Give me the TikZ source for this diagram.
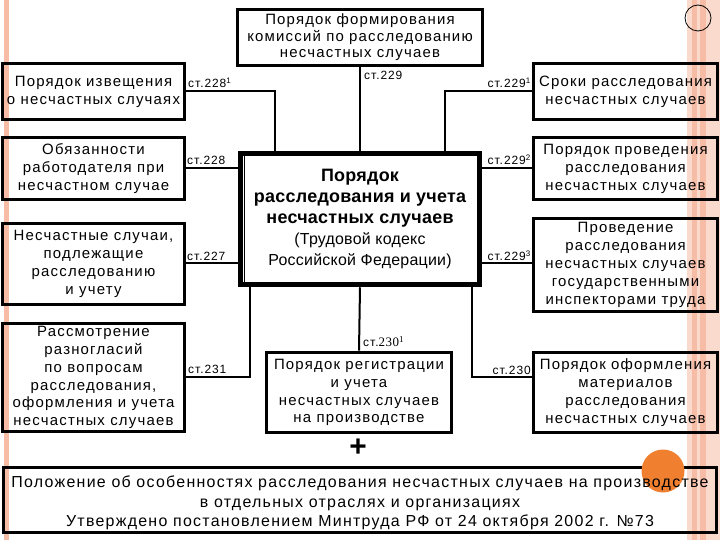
\documentclass[tikz,border=0pt]{standalone}
\usepackage{fontspec}
\setmainfont[LetterSpace=8]{Liberation Sans}
\newfontfamily\serifdig[LetterSpace=4]{Liberation Serif}
\definecolor{stripeA}{RGB}{250,218,204}
\definecolor{stripeB}{RGB}{246,188,165}
\definecolor{orangec}{RGB}{240,128,48}
\newcommand{\titlefont}{\bfseries\addfontfeature{LetterSpace=1.5}\fontsize{18}{21}\selectfont}
\newcommand{\subfont}{\mdseries\fontsize{16}{18}\selectfont}
\tikzset{
  box/.style={draw, line width=3.2bp, align=center, inner sep=0pt, font=\fontsize{15}{18}\selectfont},
  conn/.style={draw, line width=2bp},
  lab/.style={inner sep=0pt, font=\fontsize{12}{13}\selectfont},
}
\begin{document}
\begin{tikzpicture}[x=1bp,y=-1bp]
\useasboundingbox (0,0) rectangle (720,540);
% background stripes
\fill[stripeB] (4,0) rectangle (9,540);
\fill[stripeA] (687,0) rectangle (720,540);
\fill[stripeB] (692,0) rectangle (697,540);
\fill[stripeB] (700,0) rectangle (706,540);
\draw[line width=0.8bp] (698,18) circle (13);

% top box
\node[box, minimum width=246, minimum height=57, font=\fontsize{15}{16.5}\selectfont] (top) at (360,37.5)
  {Порядок формирования\\комиссий по расследованию\\несчастных случаев};

% left boxes
\node[box, minimum width=183, minimum height=57] (b1) at (93.5,91.5)
  {Порядок извещения\\о несчастных случаях};
\node[box, minimum width=183, minimum height=63] (b2) at (93.5,168.5)
  {Обязанности\\работодателя при\\несчастном случае};
\node[box, minimum width=183, minimum height=82] (b3) at (93.5,264)
  {Несчастные случаи,\\подлежащие\\расследованию\\и учету};
\node[box, minimum width=183, minimum height=109] (b4) at (93.5,377.5)
  {Рассмотрение\\разногласий\\по вопросам\\расследования,\\оформления и учета\\несчастных случаев};

% right boxes
\node[box, minimum width=185, minimum height=57] (r1) at (625.5,91.5)
  {Сроки расследования\\несчастных случаев};
\node[box, minimum width=185, minimum height=63] (r2) at (625.5,168.5)
  {Порядок проведения\\расследования\\несчастных случаев};
\node[box, minimum width=185, minimum height=94] (r3) at (625.5,265)
  {Проведение\\расследования\\несчастных случаев\\государственными\\инспекторами труда};
\node[box, minimum width=185, minimum height=81] (r4) at (625.5,392.5)
  {Порядок оформления\\материалов\\расследования\\несчастных случаев};

% center box
\node[box, line width=5bp, minimum width=240, minimum height=132, font=\titlefont] (c) at (360,219)
  {Порядок\\расследования и учета\\несчастных случаев\\\subfont (Трудовой кодекс\\\subfont Российской Федерации)};
\draw[line width=0.9bp] ([shift={(6.5,4)}]c.north west) -- ([shift={(6.5,-4)}]c.south west);

% bottom center box
\node[box, minimum width=186, minimum height=81] (bc) at (359,392.5)
  {Порядок регистрации\\и учета\\несчастных случаев\\на производстве};

% plus
\node[inner sep=0pt, font=\bfseries\fontsize{30}{30}\selectfont] (plus) at (358,448) {+};

% bottom box
\node[box, minimum width=716, minimum height=66] (bb) at (360,500) {};
\fill[orangec] (663,471) circle (21.5);
\node[align=center, inner sep=0pt, font=\fontsize{16}{19.5}\selectfont] (bbt) at ([yshift=-3bp]bb.center)
  {Положение об особенностях расследования несчастных случаев на производстве\\в отдельных отраслях и организациях\\Утверждено постановлением Минтруда РФ от 24 октября 2002 г. №73};

% connectors
\draw[conn] (top.south) -- (c.north);
\draw[conn] (b1.east) -| ([xshift=37]c.north west);
\draw[conn] (r1.west) -| ([xshift=-37]c.north east);
\draw[conn] (b2.east) -- (b2.east -| c.west);
\draw[conn] (b3.east |- 0,263) -- (c.west |- 0,263);
\draw[conn] (r2.west) -- (r2.west -| c.east);
\draw[conn] (r3.west |- 0,263) -- (c.east |- 0,263);
\draw[conn] ([xshift=12]c.south west) |- (b4.east |- 0,377);
\draw[conn] ([xshift=-10]c.south east) |- (r4.west |- 0,377);
\draw[conn] (c.south) -- (bc.north);

% labels
\node[lab, anchor=south west] (l1) at (188,88) {ст.228\textsuperscript{1}};
\node[lab, anchor=south west] (l2) at (364,80) {ст.229};
\node[lab, anchor=south east] (l3) at (531,88) {ст.229\textsuperscript{1}};
\node[lab, anchor=south west] (l4) at (187,165) {ст.228};
\node[lab, anchor=south west] (l5) at (187,261) {ст.227};
\node[lab, anchor=south east] (l6) at (531,165) {ст.229\textsuperscript{2}};
\node[lab, anchor=south east] (l7) at (531,261) {ст.229\textsuperscript{3}};
\node[lab, anchor=south west] (l8) at (188,374) {ст.231};
\node[lab, anchor=south west] (l9) at (363,347) {ст.\serifdig\fontsize{13}{13}\selectfont 230\textsuperscript{1}};
\node[lab, anchor=south east] (l10) at (531,375) {ст.230};
\end{tikzpicture}
\end{document}
